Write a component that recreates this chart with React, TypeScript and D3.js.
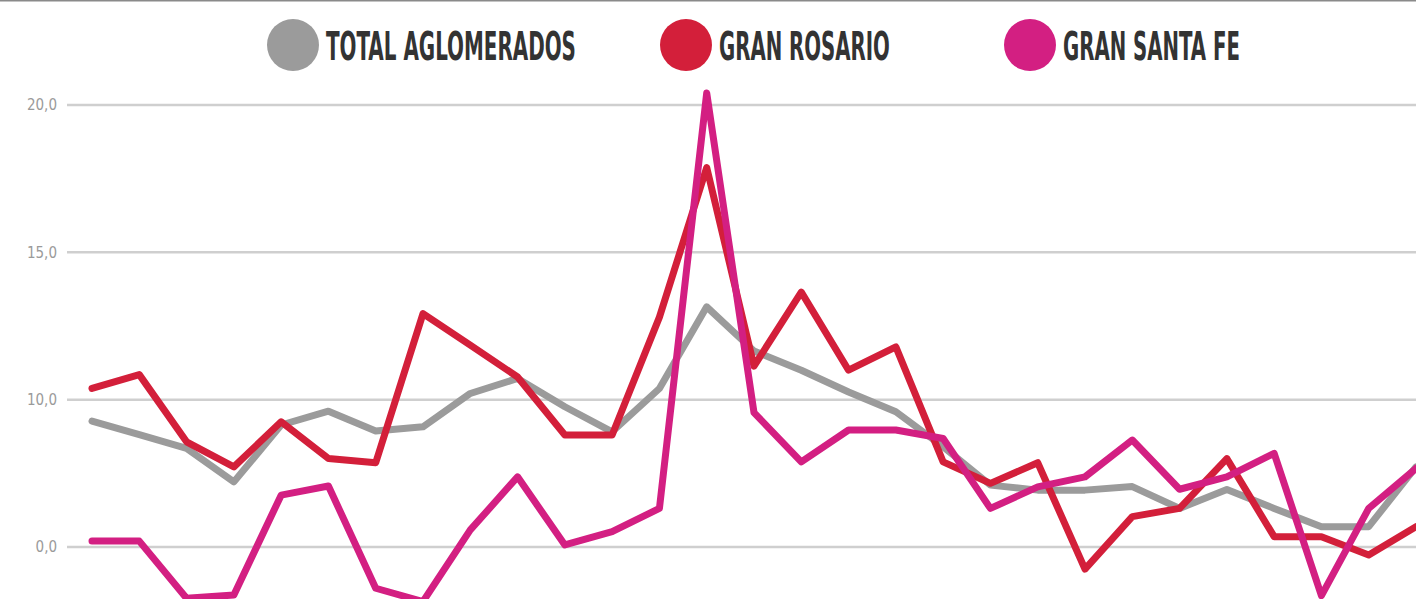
import React, { useRef, useEffect } from 'react';
import * as d3 from 'd3';

// one value per period (29 periods, no labels shown on the axis)
const totalAglomerados = [
  9.27, 8.81, 8.35, 7.21, 9.14, 9.61, 8.94, 9.08, 10.21, 10.72,
  9.76, 8.91, 10.38, 13.15, 11.65, 11.0, 10.26, 9.59, 8.4, 7.1,
  6.93, 6.93, 7.05, 6.31, 6.95, 6.31, 5.69, 5.69, 7.72,
];
const granRosario = [
  10.38, 10.85, 8.57, 7.72, 9.25, 8.0, 7.86, 12.92, 11.85, 10.77,
  8.8, 8.8, 12.8, 17.88, 11.14, 13.65, 11.0, 11.79, 7.89, 7.16,
  7.86, 4.25, 6.03, 6.31, 8.0, 5.35, 5.35, 4.73, 5.69,
];
const granSantaFe = [
  5.2, 5.2, 3.26, 3.37, 6.76, 7.07, 3.6, 3.15, 5.58, 7.38,
  5.07, 5.52, 6.31, 20.41, 9.56, 7.89, 8.97, 8.97, 8.68, 6.31,
  7.04, 7.38, 8.63, 6.96, 7.38, 8.18, 3.35, 6.31, 7.67,
];

const seriesNames = ['TOTAL AGLOMERADOS', 'GRAN ROSARIO', 'GRAN SANTA FE'];
const seriesColors = ['#9b9b9b', '#d31f3a', '#d31f82'];

const tickValues = [5, 10, 15, 20];
const tickLabels = ['0,0', '10,0', '15,0', '20,0'];

const W = 1416;
const H = 599;

export default function App() {
  const svgRef = useRef<SVGSVGElement>(null);

  useEffect(() => {
    const svg = d3.select(svgRef.current);
    svg.selectAll('*').remove();

    const all = [totalAglomerados, granRosario, granSantaFe];

    const x = d3.scaleLinear()
      .domain([0, totalAglomerados.length - 1])
      .range([92, 1416]);

    const y = d3.scaleLinear()
      .domain([5, 20])
      .range([547, 105]);

    // top border line
    svg.append('line')
      .attr('x1', 0).attr('x2', W)
      .attr('y1', 0.75).attr('y2', 0.75)
      .attr('stroke', '#8a8a8a')
      .attr('stroke-width', 1.5);

    // grid + y labels
    const yAxis = svg.append('g');
    yAxis.selectAll('line')
      .data(tickValues)
      .enter()
      .append('line')
      .attr('x1', 67).attr('x2', W)
      .attr('y1', d => y(d)).attr('y2', d => y(d))
      .attr('stroke', '#cfcfcf')
      .attr('stroke-width', 2.5);

    yAxis.selectAll('text')
      .data(tickValues)
      .enter()
      .append('text')
      .attr('x', 57)
      .attr('y', d => y(d))
      .attr('dy', '0.36em')
      .attr('text-anchor', 'end')
      .attr('font-family', '"DejaVu Sans Condensed", "Liberation Sans Narrow", sans-serif')
      .attr('font-size', 15)
      .attr('fill', '#9a9a9a')
      .text((d, i) => tickLabels[i]);

    // lines
    const line = d3.line<number>()
      .x((d, i) => x(i))
      .y(d => y(d));

    all.forEach((values, i) => {
      svg.append('path')
        .datum(values)
        .attr('d', line)
        .attr('fill', 'none')
        .attr('stroke', seriesColors[i])
        .attr('stroke-width', 7)
        .attr('stroke-linejoin', 'round')
        .attr('stroke-linecap', 'round');
    });

    // legend - text squeezed horizontally to look like a condensed face
    const legendX = [293, 686, 1030];
    const legendW = [250, 171, 177];
    const legend = svg.append('g');
    seriesNames.forEach((name, i) => {
      legend.append('circle')
        .attr('cx', legendX[i])
        .attr('cy', 45)
        .attr('r', 26)
        .attr('fill', seriesColors[i]);
      const t = legend.append('text')
        .attr('x', 0)
        .attr('y', 0)
        .attr('font-family', '"DejaVu Sans Condensed", "DejaVu Sans", sans-serif')
        .attr('font-weight', 700)
        .attr('font-size', 39)
        .attr('fill', '#333333')
        .text(name);
      const natural = (t.node() as SVGTextElement).getComputedTextLength() || legendW[i];
      t.attr('transform', `translate(${legendX[i] + 33},60) scale(${legendW[i] / natural},1)`);
    });
  }, []);

  return (
    <svg
      ref={svgRef}
      width={W}
      height={H}
      style={{ position: 'absolute', left: 0, top: 0, background: '#fff' }}
    />
  );
}
